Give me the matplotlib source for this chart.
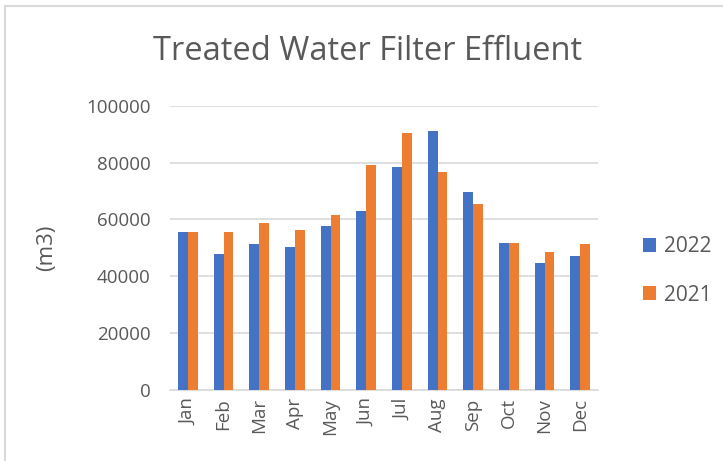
#!/usr/bin/env python3

# monthly treated water filter effluent, 2022 vs 2021

import numpy as np
import matplotlib
matplotlib.use('Agg')
import matplotlib.pyplot as plt
from matplotlib.lines import Line2D

matplotlib.rcParams['font.family'] = ['Open Sans', 'DejaVu Sans']

months = ['Jan', 'Feb', 'Mar', 'Apr', 'May', 'Jun',
          'Jul', 'Aug', 'Sep', 'Oct', 'Nov', 'Dec']
vol_2022 = [55400, 47800, 51300, 50300, 57700, 63100,
            78300, 91200, 69500, 51700, 44500, 47100]
vol_2021 = [55400, 55700, 58700, 56200, 61700, 79000,
            90300, 76800, 65300, 51700, 48400, 51200]

blue = '#4472C4'
orange = '#ED7D31'
grey = '#595959'

fig = plt.figure(figsize=(7.23, 4.61), dpi=100)
ax = fig.add_axes([170/723, 1 - 390/461, 428/723, (390 - 105.7)/461])

x = np.arange(len(months))
w = 0.28
ax.bar(x - w/2, vol_2022, w, color=blue, label='2022', zorder=3)
ax.bar(x + w/2, vol_2021, w, color=orange, label='2021', zorder=3)

ax.set_xlim(-0.5, len(months) - 0.5)
ax.set_ylim(0, 100000)
ax.set_yticks(np.arange(0, 100001, 20000))
ax.yaxis.grid(True, color='#D9D9D9', linewidth=1.2, zorder=0)
for s in ['top', 'right', 'left']:
    ax.spines[s].set_visible(False)
ax.spines['bottom'].set_color('#D9D9D9')
ax.spines['bottom'].set_linewidth(1.2)
ax.tick_params(axis='both', length=0, colors=grey, labelsize=13.5)
ax.tick_params(axis='y', pad=14)
ax.tick_params(axis='x', pad=6)
ax.set_xticks(x)
ax.set_xticklabels(months, rotation=90)

ax.set_ylabel('(m3)', color=grey, fontsize=16, labelpad=8)
ax.yaxis.set_label_coords((57 - 170)/428, 0.5)

fig.text(368/723, 1 - 51/461, 'Treated Water Filter Effluent',
         ha='center', va='center', fontsize=23.5, color=grey)

ax.legend(loc='center left', bbox_to_anchor=(624/723, 1 - 271/461),
          bbox_transform=fig.transFigure, frameon=False, fontsize=15,
          labelcolor=grey, handlelength=0.65, handleheight=0.65,
          handletextpad=0.35, labelspacing=1.3)

# light chart-area border on the left and top edges
fig.add_artist(Line2D([5/723, 5/723], [0, 1 - 6/461],
                      transform=fig.transFigure, color='#D9D9D9', lw=1.5))
fig.add_artist(Line2D([5/723, 1], [1 - 6/461, 1 - 6/461],
                      transform=fig.transFigure, color='#D9D9D9', lw=1.5))

fig.savefig('out.png', dpi=100)
